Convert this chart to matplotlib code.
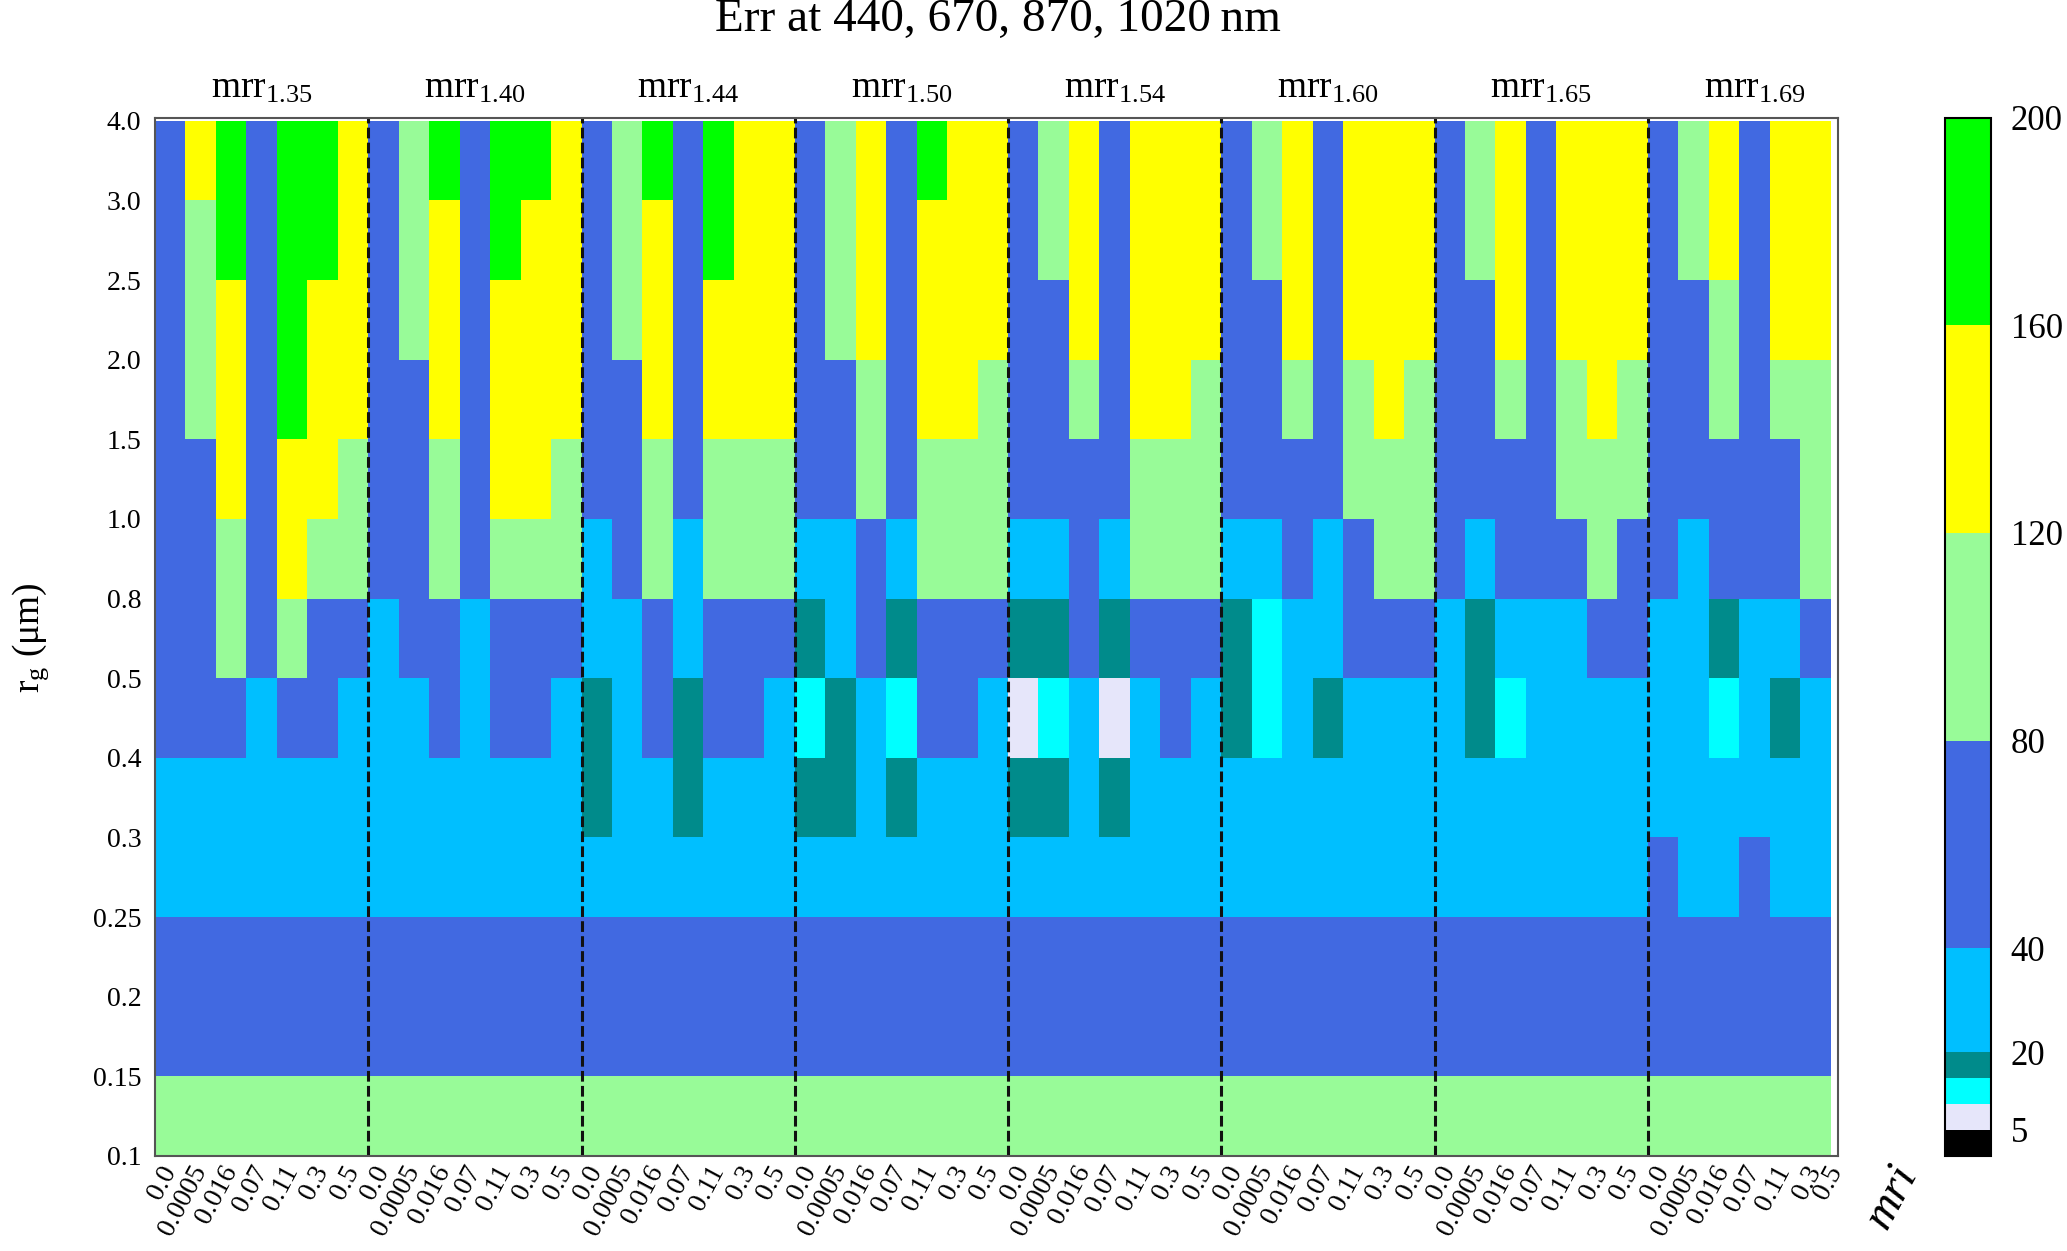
import numpy as np
import matplotlib
matplotlib.use('Agg')
import matplotlib.pyplot as plt
from matplotlib.colors import ListedColormap, BoundaryNorm

plt.rcParams['font.family'] = ['Liberation Serif', 'DejaVu Serif']
plt.rcParams['mathtext.fontset'] = 'custom'
plt.rcParams['mathtext.rm'] = 'Liberation Serif'
plt.rcParams['mathtext.it'] = 'Liberation Serif:italic'

# rg bin edges (bottom to top) and mri / mrr labels
rg_labels = ['0.1', '0.15', '0.2', '0.25', '0.3', '0.4', '0.5', '0.8', '1.0', '1.5', '2.0', '2.5', '3.0', '4.0']
mri_labels = ['0.0', '0.0005', '0.016', '0.07', '0.11', '0.3', '0.5']
mrr_labels = ['1.35', '1.40', '1.44', '1.50', '1.54', '1.60', '1.65', '1.69']

# colour classes of Err (%)
bounds = [0, 5, 10, 15, 20, 40, 80, 120, 160, 200]
colors = ['black', 'lavender', 'cyan', 'darkcyan', 'deepskyblue', 'royalblue', 'palegreen', 'yellow', 'lime']
cbar_ticks = [5, 20, 40, 80, 120, 160, 200]

# Err per mrr block, rows from rg 3.0-4.0 (top) down to 0.1-0.15, columns = mri
err_135 = [
    [60, 140, 180, 60, 180, 180, 140],
    [60, 100, 180, 60, 180, 180, 140],
    [60, 100, 140, 60, 180, 140, 140],
    [60, 100, 140, 60, 180, 140, 140],
    [60, 60, 140, 60, 140, 140, 100],
    [60, 60, 100, 60, 140, 100, 100],
    [60, 60, 100, 60, 100, 60, 60],
    [60, 60, 60, 30, 60, 60, 30],
    [30, 30, 30, 30, 30, 30, 30],
    [30, 30, 30, 30, 30, 30, 30],
    [60, 60, 60, 60, 60, 60, 60],
    [60, 60, 60, 60, 60, 60, 60],
    [100, 100, 100, 100, 100, 100, 100],
]
err_140 = [
    [60, 100, 180, 60, 180, 180, 140],
    [60, 100, 140, 60, 180, 140, 140],
    [60, 100, 140, 60, 140, 140, 140],
    [60, 60, 140, 60, 140, 140, 140],
    [60, 60, 100, 60, 140, 140, 100],
    [60, 60, 100, 60, 100, 100, 100],
    [30, 60, 60, 30, 60, 60, 60],
    [30, 30, 60, 30, 60, 60, 30],
    [30, 30, 30, 30, 30, 30, 30],
    [30, 30, 30, 30, 30, 30, 30],
    [60, 60, 60, 60, 60, 60, 60],
    [60, 60, 60, 60, 60, 60, 60],
    [100, 100, 100, 100, 100, 100, 100],
]
err_144 = [
    [60, 100, 180, 60, 180, 140, 140],
    [60, 100, 140, 60, 180, 140, 140],
    [60, 100, 140, 60, 140, 140, 140],
    [60, 60, 140, 60, 140, 140, 140],
    [60, 60, 100, 60, 100, 100, 100],
    [30, 60, 100, 30, 100, 100, 100],
    [30, 30, 60, 30, 60, 60, 60],
    [17, 30, 60, 17, 60, 60, 30],
    [17, 30, 30, 17, 30, 30, 30],
    [30, 30, 30, 30, 30, 30, 30],
    [60, 60, 60, 60, 60, 60, 60],
    [60, 60, 60, 60, 60, 60, 60],
    [100, 100, 100, 100, 100, 100, 100],
]
err_150 = [
    [60, 100, 140, 60, 180, 140, 140],
    [60, 100, 140, 60, 140, 140, 140],
    [60, 100, 140, 60, 140, 140, 140],
    [60, 60, 100, 60, 140, 140, 100],
    [60, 60, 100, 60, 100, 100, 100],
    [30, 30, 60, 30, 100, 100, 100],
    [17, 30, 60, 17, 60, 60, 60],
    [12, 17, 30, 12, 60, 60, 30],
    [17, 17, 30, 17, 30, 30, 30],
    [30, 30, 30, 30, 30, 30, 30],
    [60, 60, 60, 60, 60, 60, 60],
    [60, 60, 60, 60, 60, 60, 60],
    [100, 100, 100, 100, 100, 100, 100],
]
err_154 = [
    [60, 100, 140, 60, 140, 140, 140],
    [60, 100, 140, 60, 140, 140, 140],
    [60, 60, 140, 60, 140, 140, 140],
    [60, 60, 100, 60, 140, 140, 100],
    [60, 60, 60, 60, 100, 100, 100],
    [30, 30, 60, 30, 100, 100, 100],
    [17, 17, 60, 17, 60, 60, 60],
    [7, 12, 30, 7, 30, 60, 30],
    [17, 17, 30, 17, 30, 30, 30],
    [30, 30, 30, 30, 30, 30, 30],
    [60, 60, 60, 60, 60, 60, 60],
    [60, 60, 60, 60, 60, 60, 60],
    [100, 100, 100, 100, 100, 100, 100],
]
err_160 = [
    [60, 100, 140, 60, 140, 140, 140],
    [60, 100, 140, 60, 140, 140, 140],
    [60, 60, 140, 60, 140, 140, 140],
    [60, 60, 100, 60, 100, 140, 100],
    [60, 60, 60, 60, 100, 100, 100],
    [30, 30, 60, 30, 60, 100, 100],
    [17, 12, 30, 30, 60, 60, 60],
    [17, 12, 30, 17, 30, 30, 30],
    [30, 30, 30, 30, 30, 30, 30],
    [30, 30, 30, 30, 30, 30, 30],
    [60, 60, 60, 60, 60, 60, 60],
    [60, 60, 60, 60, 60, 60, 60],
    [100, 100, 100, 100, 100, 100, 100],
]
err_165 = [
    [60, 100, 140, 60, 140, 140, 140],
    [60, 100, 140, 60, 140, 140, 140],
    [60, 60, 140, 60, 140, 140, 140],
    [60, 60, 100, 60, 100, 140, 100],
    [60, 60, 60, 60, 100, 100, 100],
    [60, 30, 60, 60, 60, 100, 60],
    [30, 17, 30, 30, 30, 60, 60],
    [30, 17, 12, 30, 30, 30, 30],
    [30, 30, 30, 30, 30, 30, 30],
    [30, 30, 30, 30, 30, 30, 30],
    [60, 60, 60, 60, 60, 60, 60],
    [60, 60, 60, 60, 60, 60, 60],
    [100, 100, 100, 100, 100, 100, 100],
]
# last block has no mri = 0.5 column
err_169 = [
    [60, 100, 140, 60, 140, 140],
    [60, 100, 140, 60, 140, 140],
    [60, 60, 100, 60, 140, 140],
    [60, 60, 100, 60, 100, 100],
    [60, 60, 60, 60, 60, 100],
    [60, 30, 60, 60, 60, 100],
    [30, 30, 17, 30, 30, 60],
    [30, 30, 12, 30, 17, 30],
    [30, 30, 30, 30, 30, 30],
    [60, 30, 30, 60, 30, 30],
    [60, 60, 60, 60, 60, 60],
    [60, 60, 60, 60, 60, 60],
    [100, 100, 100, 100, 100, 100],
]
blocks = [err_135, err_140, err_144, err_150, err_154, err_160, err_165, err_169]

grid = np.hstack([np.array(b) for b in blocks])[::-1]
nrows, ncols = grid.shape
widths = [len(b[0]) for b in blocks]
starts = np.concatenate([[0], np.cumsum(widths)[:-1]])
xmax = ncols + 0.23

fig = plt.figure(figsize=(20.67, 12.51), dpi=100)
ax = fig.add_axes([0.075, 0.076, 0.814, 0.830])
cax = fig.add_axes([0.941, 0.076, 0.0223, 0.830])

cmap = ListedColormap(colors)
norm = BoundaryNorm(bounds, cmap.N)
mesh = ax.pcolormesh(np.arange(ncols + 1), np.arange(nrows + 1), grid, cmap=cmap, norm=norm)
ax.set_xlim(0, xmax)
ax.set_ylim(0, nrows + 0.04)

for s in starts[1:]:
    ax.axvline(s, color='#111111', lw=2.2, ls=(0, (3.5, 1.4)))

# group labels
for s, w, m in zip(starts, widths, mrr_labels):
    ax.text(s + 3.5, 1.012, 'mrr$_{' + m + '}$', transform=ax.get_xaxis_transform(),
            ha='center', va='bottom', fontsize=27)

xt = []
xl = []
for s, w in zip(starts, widths):
    xt += list(s + np.arange(w) + 0.5)
    xl += mri_labels[:w]
xt.append(xmax - 0.02)
xl.append(mri_labels[-1])
ax.set_xticks(xt)
ax.set_xticklabels(xl, rotation=62, ha='right', va='center', rotation_mode='anchor', fontsize=20)
ax.set_yticks(np.arange(nrows + 1))
ax.set_yticklabels(rg_labels, fontsize=20)
ax.tick_params(axis='x', length=0, pad=8)
ax.tick_params(axis='y', length=0, pad=10)
for sp in ax.spines.values():
    sp.set_color('#555555')
    sp.set_linewidth(1.5)

fig.text(0.483, 0.984, 'Err at 440, 670, 870, 1020\u2009nm', ha='center', va='center', fontsize=34)
fig.text(0.015, 0.49, 'r$_\\mathrm{g}$ (\u03bcm)', rotation=90, ha='center', va='center', fontsize=27)
fig.text(0.915, 0.043, 'mri', rotation=62, style='italic', ha='center', va='center', fontsize=34)

cb = fig.colorbar(mesh, cax=cax, boundaries=bounds, spacing='proportional', ticks=cbar_ticks)
cb.ax.minorticks_off()
cb.ax.tick_params(length=0, labelsize=25, pad=14)
cb.outline.set_linewidth(1.5)
cb.outline.set_edgecolor('black')

fig.savefig('out.png', dpi=100)
